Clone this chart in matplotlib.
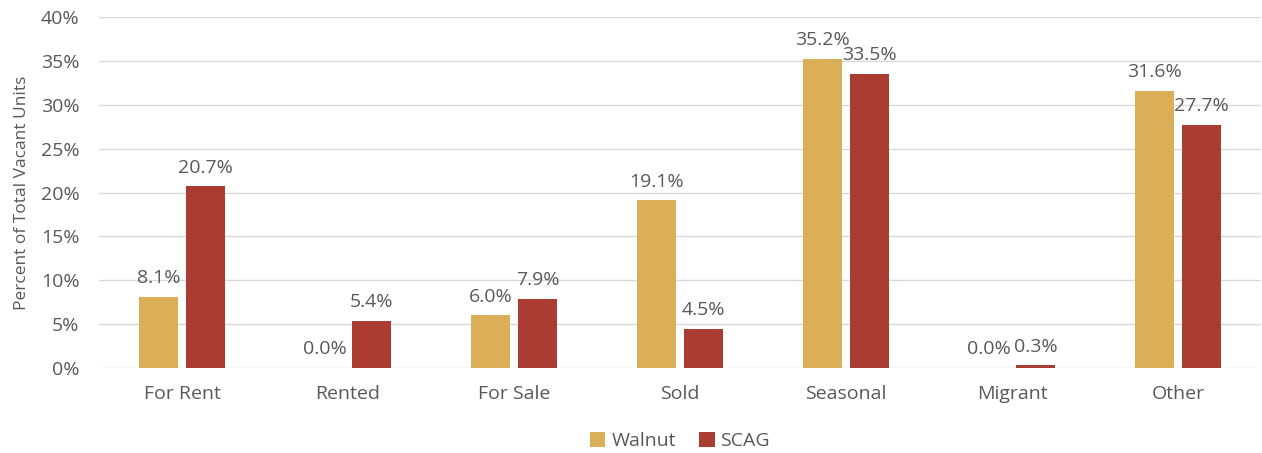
import numpy as np
import matplotlib.pyplot as plt

categories = ['For Rent', 'Rented', 'For Sale', 'Sold', 'Seasonal', 'Migrant', 'Other']
walnut = [8.1, 0.0, 6.0, 19.1, 35.2, 0.0, 31.6]
scag = [20.7, 5.4, 7.9, 4.5, 33.5, 0.3, 27.7]

plt.rcParams['font.family'] = ['Open Sans', 'DejaVu Sans']
gray = '#595959'

fig = plt.figure(figsize=(12.62, 4.53), dpi=100)
ax = fig.add_axes([99 / 1262, 1 - 368 / 453, 1162 / 1262, 351 / 453])

x = np.arange(len(categories))
w = 0.23
b1 = ax.bar(x - 0.142, walnut, w, color='#DBAE58', label='Walnut', zorder=3)
b2 = ax.bar(x + 0.142, scag, w, color='#AB3C32', label='SCAG', zorder=3)

for bars in (b1, b2):
    for b in bars:
        h = b.get_height()
        ax.annotate(f'{h:.1f}%', (b.get_x() + b.get_width() / 2, h),
                    xytext=(0, 7), textcoords='offset points',
                    ha='center', va='bottom', fontsize=14, color=gray)

ax.set_xlim(-0.5, len(categories) - 0.5)
ax.set_ylim(0, 40)
ax.set_yticks(range(0, 41, 5))
ax.set_yticklabels([f'{v}%' for v in range(0, 41, 5)])
ax.set_xticks(x)
ax.set_xticklabels(categories)
ax.tick_params(axis='both', length=0, labelsize=14, colors=gray)
ax.tick_params(axis='x', pad=12)
ax.tick_params(axis='y', pad=14)
ax.grid(axis='y', color='#D9D9D9', linewidth=1, zorder=0)
for s in ax.spines.values():
    s.set_visible(False)
ax.set_ylabel('Percent of Total Vacant Units', fontsize=12.5, color=gray, labelpad=8)

ax.legend(loc='lower center', bbox_to_anchor=(0.5, -0.262), ncol=2, frameon=False,
          fontsize=14, labelcolor=gray, handlelength=0.8, handleheight=0.8,
          handletextpad=0.3, columnspacing=1.2, borderpad=0)

fig.savefig('out.png', dpi=100)
